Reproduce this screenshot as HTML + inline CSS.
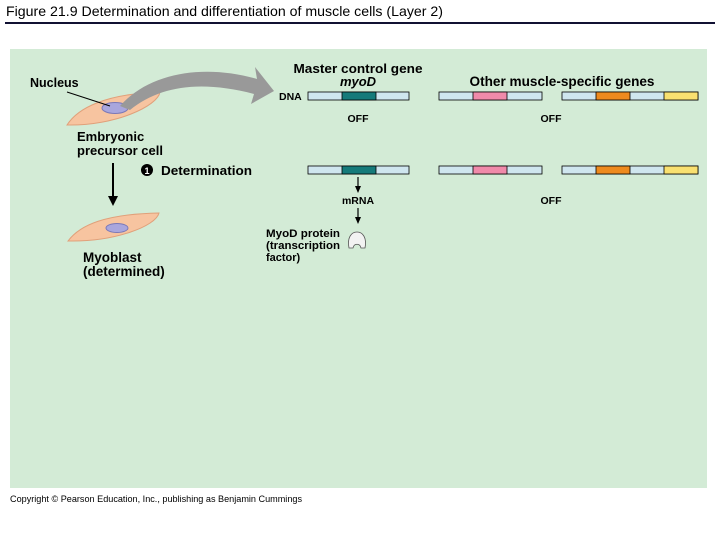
<!DOCTYPE html>
<html><head><style>
body{margin:0;width:720px;height:540px;background:#fff;overflow:hidden;font-family:"Liberation Sans",Arial,sans-serif}
</style></head><body>
<svg width="720" height="540" viewBox="0 0 720 540" xmlns="http://www.w3.org/2000/svg" font-family="Liberation Sans, Arial, sans-serif">
<text x="6" y="16" font-size="14" fill="#000" textLength="437" lengthAdjust="spacingAndGlyphs">Figure 21.9  Determination and differentiation of muscle cells (Layer 2)</text>
<rect x="5" y="22" width="710" height="2" fill="#111133"/>
<rect x="10" y="49" width="697" height="439" fill="#d3ebd6"/>
<text x="10" y="502" font-size="9" fill="#000" textLength="292" lengthAdjust="spacingAndGlyphs">Copyright © Pearson Education, Inc., publishing as Benjamin Cummings</text>

<!-- cell 1 -->
<path d="M67,125 C78,108 105,94 160,92 C158,106 115,126 67,125Z" fill="#f7c4a0" stroke="#e0a07a" stroke-width="1"/>
<ellipse cx="115" cy="108" rx="13" ry="5.5" fill="#a9a6dd" stroke="#7a78b8"/>
<line x1="67" y1="92" x2="110" y2="106" stroke="#000" stroke-width="1"/>
<text x="30" y="87" font-size="12.5" font-weight="bold">Nucleus</text>
<!-- gray arrow -->
<path d="M120,106 C150,72 205,64 257,79 L255,67 L274,91 L251,104 L254,94 C200,80 160,86 130,110Z" fill="#999"/>
<text x="77" y="141" font-size="13" font-weight="bold">Embryonic</text>
<text x="77" y="155" font-size="13" font-weight="bold">precursor cell</text>
<line x1="113" y1="163" x2="113" y2="198" stroke="#000" stroke-width="2"/>
<path d="M108,196 L113,206 L118,196Z" fill="#000"/>
<circle cx="147" cy="170" r="6" fill="#000"/>
<text x="147" y="174" font-size="9" font-weight="bold" fill="#fff" text-anchor="middle">1</text>
<text x="161" y="175" font-size="13" font-weight="bold" textLength="91" lengthAdjust="spacingAndGlyphs">Determination</text>
<!-- cell 2 -->
<path d="M68,241 C80,225 105,214 159,213 C156,226 115,242 68,241Z" fill="#f7c4a0" stroke="#e0a07a" stroke-width="1"/>
<ellipse cx="117" cy="228" rx="11" ry="4.5" fill="#a9a6dd" stroke="#7a78b8"/>
<text x="83" y="262" font-size="13.5" font-weight="bold">Myoblast</text>
<text x="83" y="276" font-size="13.5" font-weight="bold">(determined)</text>

<!-- headers -->
<text x="358" y="73" font-size="13" font-weight="bold" text-anchor="middle" textLength="129" lengthAdjust="spacingAndGlyphs">Master control gene</text>
<text x="358" y="86" font-size="13" font-weight="bold" font-style="italic" text-anchor="middle">myoD</text>
<text x="562" y="86" font-size="13.5" font-weight="bold" text-anchor="middle" textLength="185" lengthAdjust="spacingAndGlyphs">Other muscle-specific genes</text>
<text x="279" y="100" font-size="10.5" font-weight="bold">DNA</text>

<g stroke="#000" stroke-width="0.8">
<rect x="308" y="92" width="101" height="8" fill="#cfe6ef"/>
<rect x="342" y="92" width="34" height="8" fill="#157a7a"/>
<rect x="439" y="92" width="103" height="8" fill="#cfe6ef"/>
<rect x="473" y="92" width="34" height="8" fill="#f08aaa"/>
<rect x="562" y="92" width="136" height="8" fill="#cfe6ef"/>
<rect x="596" y="92" width="34" height="8" fill="#ee8a1e"/>
<rect x="664" y="92" width="34" height="8" fill="#f9e070"/>
<rect x="308" y="166" width="101" height="8" fill="#cfe6ef"/>
<rect x="342" y="166" width="34" height="8" fill="#157a7a"/>
<rect x="439" y="166" width="103" height="8" fill="#cfe6ef"/>
<rect x="473" y="166" width="34" height="8" fill="#f08aaa"/>
<rect x="562" y="166" width="136" height="8" fill="#cfe6ef"/>
<rect x="596" y="166" width="34" height="8" fill="#ee8a1e"/>
<rect x="664" y="166" width="34" height="8" fill="#f9e070"/>
</g>
<text x="358" y="122" font-size="10.5" font-weight="bold" text-anchor="middle">OFF</text>
<text x="551" y="122" font-size="10.5" font-weight="bold" text-anchor="middle">OFF</text>
<text x="551" y="204" font-size="10.5" font-weight="bold" text-anchor="middle">OFF</text>
<text x="358" y="204" font-size="10.5" font-weight="bold" text-anchor="middle">mRNA</text>
<line x1="358" y1="177" x2="358" y2="188" stroke="#000" stroke-width="1.2"/>
<path d="M355,186 L358,193 L361,186Z" fill="#000"/>
<line x1="358" y1="208" x2="358" y2="219" stroke="#000" stroke-width="1.2"/>
<path d="M355,217 L358,224 L361,217Z" fill="#000"/>
<path d="M349,248 C347,238 351,232 357,232 C363,232 367,238 365,248 L361,248 C360,243 354,243 353,248Z" fill="#f2f2f2" stroke="#555" stroke-width="0.8"/>
<text x="266" y="237" font-size="11" font-weight="bold" textLength="74" lengthAdjust="spacingAndGlyphs">MyoD protein</text>
<text x="266" y="249" font-size="11" font-weight="bold" textLength="74" lengthAdjust="spacingAndGlyphs">(transcription</text>
<text x="266" y="261" font-size="11" font-weight="bold">factor)</text>
</svg>
</body></html>
